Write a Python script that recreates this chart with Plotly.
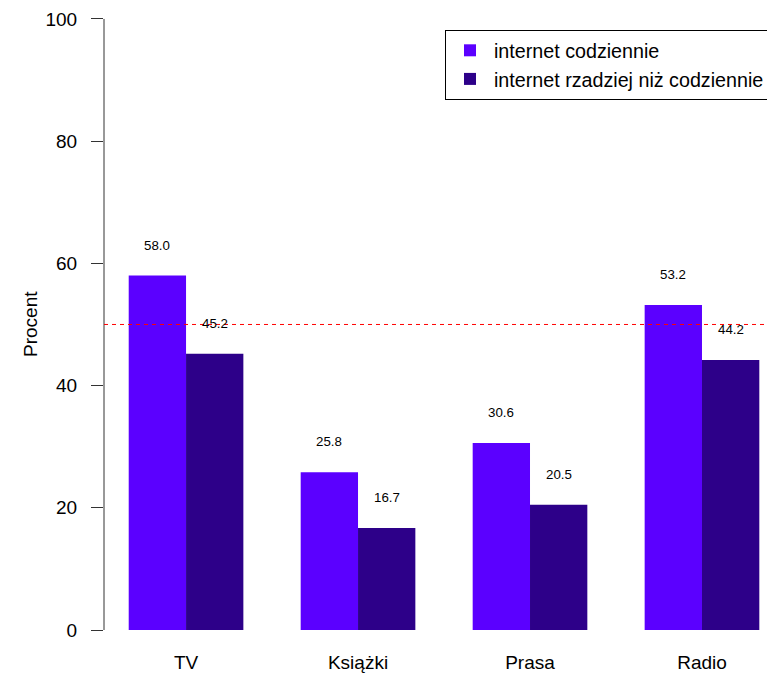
import plotly.graph_objects as go

categories = ["TV", "Książki", "Prasa", "Radio"]
series_names = ["internet codziennie", "internet rzadziej niż codziennie"]
daily = [58.0, 25.8, 30.6, 53.2]
less_often = [45.2, 16.7, 20.5, 44.2]
y_ticks = [0, 20, 40, 60, 80, 100]
ref_level = 50

colors = ["#5B00FF", "#2D0089"]
FONT = "Liberation Sans, Arial, Helvetica, sans-serif"
FS = 19
FS_LEG = 19.7
FS_SMALL = 13.3

fig = go.Figure()
for name, vals, col in zip(series_names, [daily, less_often], colors):
    fig.add_trace(go.Bar(x=categories, y=vals, name=name,
                         marker=dict(color=col, line=dict(width=0))))

W, H = 767, 677
ml, mr, mt, mb = 104, 0, 0, 28
plot_w = W - ml - mr
xr = [-0.477, 3.378]
px_per_cat = plot_w / (xr[1] - xr[0])
bar_w = px_per_cat / 3.0

annotations = []
for vals, sgn in [(daily, -1), (less_often, 1)]:
    for c, v in zip(categories, vals):
        annotations.append(dict(x=c, y=v + 5, text=f"{v:.1f}", xref="x", yref="y",
                                xshift=sgn * bar_w / 2, showarrow=False,
                                font=dict(size=FS_SMALL, color="black", family=FONT)))
annotations.append(dict(x=0, y=0.5, xref="paper", yref="paper", xshift=-86,
                        text="Procent", textangle=-90, showarrow=False,
                        font=dict(size=FS, color="black", family=FONT)))

fig.update_layout(
    width=W, height=H,
    margin=dict(l=ml, r=mr, t=mt, b=mb, autoexpand=False),
    paper_bgcolor="white", plot_bgcolor="white",
    barmode="group", bargap=1/3, bargroupgap=0,
    font=dict(family=FONT, size=FS, color="black"),
    xaxis=dict(range=xr, showgrid=False, showline=False, zeroline=False,
               ticks="", automargin=False, tickfont=dict(size=FS, color="black")),
    yaxis=dict(range=[-3.11, 103.1], tickvals=y_ticks, ticks="outside", ticklen=12,
               tickcolor="#333333", showgrid=False, showline=False, zeroline=False,
               automargin=False, ticklabelstandoff=10,
               tickfont=dict(size=FS, color="black")),
    legend=dict(x=(445 - ml) / plot_w, y=(649 - 30) / 649, xanchor="left", yanchor="top",
                bgcolor="white", bordercolor="black", borderwidth=1,
                font=dict(size=FS_LEG, color="black", family=FONT),
                tracegroupgap=0, itemwidth=38),
    showlegend=True,
    annotations=annotations,
    shapes=[
        dict(type="line", xref="paper", yref="y", x0=0, x1=0, y0=0, y1=100,
             line=dict(color="#333333", width=1)),
        dict(type="line", xref="paper", yref="y", x0=0, x1=1, y0=ref_level, y1=ref_level,
             line=dict(color="red", width=1, dash="4px,4px")),
    ],
)

fig.write_html("out.html",
               config={"displayModeBar": False},
               post_script="document.body.style.margin='0';document.body.style.overflow='hidden';")
